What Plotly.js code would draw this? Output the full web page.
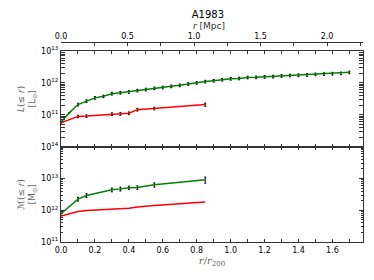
<!DOCTYPE html>
<html><head><meta charset="utf-8">
<script src="https://cdn.plot.ly/plotly-3.0.1.min.js"></script>
<style>html,body{margin:0;padding:0;background:#fff}#c{width:374px;height:280px}</style>
</head><body><div id="c"></div>
<script>
// r/r200 positions
const xLumGreen = [0,0.05,0.1,0.15,0.2,0.25,0.3,0.35,0.4,0.45,0.5,0.55,0.6,0.65,0.7,0.75,0.8,0.85,0.9,0.95,1.0,1.05,1.1,1.15,1.2,1.25,1.3,1.35,1.4,1.45,1.5,1.55,1.6,1.65,1.7];
const lumGreen = [6.0e10,1.17e11,2.1e11,2.7e11,3.4e11,3.8e11,4.6e11,4.9e11,5.2e11,5.75e11,6.2e11,6.8e11,7.2e11,7.8e11,8.4e11,9.3e11,1.0e12,1.1e12,1.17e12,1.26e12,1.35e12,1.38e12,1.48e12,1.5e12,1.55e12,1.58e12,1.66e12,1.7e12,1.74e12,1.78e12,1.86e12,1.9e12,1.95e12,2.0e12,2.14e12];
const lumGreenErr = [0,0,2.0e10,2.6e10,3.2e10,3.6e10,4.4e10,4.7e10,5.0e10,5.5e10,6.0e10,6.5e10,7.0e10,7.5e10,8.0e10,9.0e10,9.6e10,1.05e11,1.1e11,1.2e11,1.3e11,1.3e11,1.4e11,1.45e11,1.5e11,1.5e11,1.6e11,1.6e11,1.7e11,1.7e11,1.8e11,1.8e11,1.9e11,1.9e11,2.0e11];

const xRed = [0,0.1,0.15,0.3,0.35,0.4,0.45,0.55,0.85];
const lumRed = [5.6e10,8.9e10,9.1e10,1.05e11,1.07e11,1.12e11,1.45e11,1.58e11,2.09e11];
const lumRedErr = [0,8e9,8e9,1.0e10,1.0e10,1.1e10,1.4e10,1.5e10,2.4e10];

const xMass = [0,0.1,0.15,0.3,0.35,0.4,0.45,0.55,0.85];
const massGreen = [7.8e11,2.24e12,2.9e12,4.4e12,4.7e12,5.1e12,5.2e12,6.3e12,9.1e12];
const massGreenErr = [0,3.0e11,4.0e11,6.0e11,6.5e11,6.5e11,6.5e11,9.5e11,2.0e12];
const massRed = [6.6e11,9.1e11,9.8e11,1.07e12,1.10e12,1.15e12,1.26e12,1.41e12,1.82e12];

// physical radius axis range (Mpc), matching the r/r200 range
const mpcRange = [0, 2.27];

const GREEN = '#008000', RED = '#ff0000';
const font = {family:'DejaVu Sans, sans-serif', size:8, color:'#000'};

function minorLog(a,b){const v=[];for(let e=a;e<b;e++){for(let d=2;d<=9;d++)v.push(d*Math.pow(10,e));}return v;}

const traces = [
  {x:xLumGreen, y:lumGreen, xaxis:'x2', yaxis:'y', mode:'lines', line:{color:GREEN,width:1.5},
   error_y:{type:'data', array:lumGreenErr, color:'#000', thickness:1, width:1}},
  {x:xRed, y:lumRed, xaxis:'x2', yaxis:'y', mode:'lines', line:{color:RED,width:1.5},
   error_y:{type:'data', array:lumRedErr, color:'#000', thickness:1, width:1}},
  {x:xMass, y:massGreen, xaxis:'x', yaxis:'y2', mode:'lines', line:{color:GREEN,width:1.5},
   error_y:{type:'data', array:massGreenErr, color:'#000', thickness:1, width:1}},
  {x:xMass, y:massRed, xaxis:'x', yaxis:'y2', mode:'lines', line:{color:RED,width:1.5}},
  // empty trace so the Mpc axis is drawn
  {x:[], y:[], xaxis:'x3', yaxis:'y', mode:'lines', hoverinfo:'skip'}
];

const axLine = {showline:true, linecolor:'#333', linewidth:1, showgrid:false, zeroline:false, ticks:'inside', tickcolor:'#333'};
const layout = {
  width:374, height:280, margin:{l:61, r:11, t:42, b:38},
  paper_bgcolor:'#fff', plot_bgcolor:'#fff', showlegend:false, font:font,
  title:{text:'A1983', xref:'container', x:0.556, xanchor:'center', y:0.95, yanchor:'middle', font:{family:'DejaVu Sans, sans-serif', size:10, color:'#000'}},
  annotations:[{text:'<i>r</i> [Mpc]', xref:'paper', yref:'paper', x:0.49, y:1.08, xanchor:'center', yanchor:'middle', showarrow:false,
    font:{family:'DejaVu Sans, sans-serif', size:9, color:'#333'}}],
  xaxis:Object.assign({}, axLine, {anchor:'y2', domain:[0,1], range:[0,1.78], dtick:0.2, tick0:0, ticklen:3, mirror:'allticks',
    tickformat:'.1f', minor:{dtick:0.1, ticks:'inside', ticklen:3, tickcolor:'#333'},
    title:{text:'<i>r</i>/<i>r</i><sub>200</sub>', standoff:3, font:{family:'DejaVu Serif, serif', size:10, color:'#666'}}}),
  xaxis2:Object.assign({}, axLine, {anchor:'y', matches:'x', showticklabels:false, dtick:0.1, ticklen:3, mirror:'allticks'}),
  xaxis3:Object.assign({}, axLine, {anchor:'free', overlaying:'x2', position:1, side:'top', range:mpcRange, dtick:0.5, tick0:0, ticklen:3,
    tickformat:'.1f', minor:{dtick:0.25, ticks:'inside', ticklen:3, tickcolor:'#333'}}),
  yaxis:Object.assign({}, axLine, {type:'log', domain:[0.4765,0.955], range:[10,13], anchor:'x2', mirror:'allticks', ticklen:4,
    tickvals:[1e11,1e12,1e13], ticktext:['10<sup>11</sup>','10<sup>12</sup>','10<sup>13</sup>'],
    minor:{tickvals:minorLog(10,13), ticks:'inside', ticklen:2, tickcolor:'#333'},
    title:{text:'<i>L</i>(≤ <i>r</i>)<br>[L<sub>⊙</sub>]', standoff:3, font:{family:'DejaVu Sans, sans-serif', size:9, color:'#666'}}}),
  yaxis2:Object.assign({}, axLine, {type:'log', domain:[0,0.4765], range:[11,14], anchor:'x', mirror:'allticks', ticklen:4,
    tickvals:[1e11,1e12,1e13,1e14], ticktext:['10<sup>11</sup>','10<sup>12</sup>','10<sup>13</sup>','10<sup>14</sup>'],
    minor:{tickvals:minorLog(11,14), ticks:'inside', ticklen:2, tickcolor:'#333'},
    title:{text:'<i>ℳ</i>(≤ <i>r</i>)<br>[M<sub>⊙</sub>]', standoff:3, font:{family:'DejaVu Sans, sans-serif', size:9, color:'#666'}}})
};
Plotly.newPlot('c', traces, layout, {displayModeBar:false, staticPlot:true});
</script></body></html>
